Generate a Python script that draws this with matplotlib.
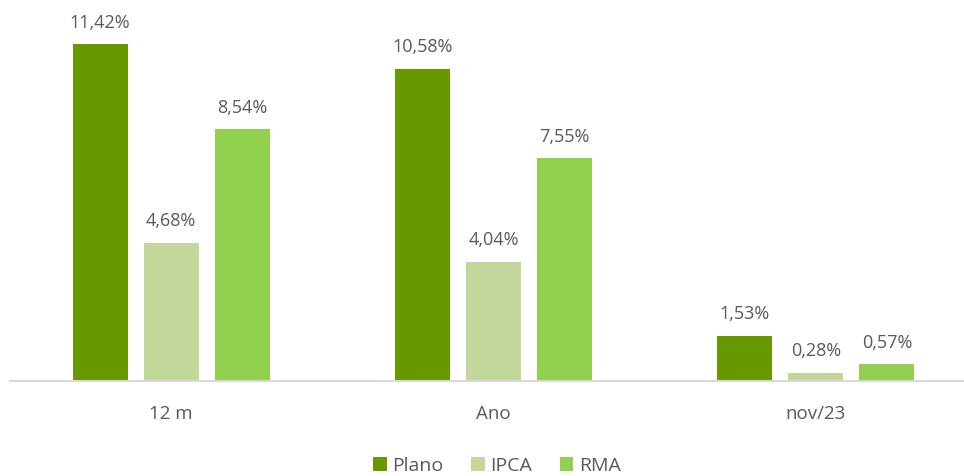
import numpy as np
import matplotlib.pyplot as plt

# Dados do gráfico
categorias = ["12 m", "Ano", "nov/23"]
series = ["Plano", "IPCA", "RMA"]
plano = [11.42, 10.58, 1.53]
ipca = [4.68, 4.04, 0.28]
rma = [8.54, 7.55, 0.57]
cores = ["#669900", "#C4D79B", "#92D050"]

plt.rcParams['font.family'] = ['Open Sans', 'DejaVu Sans']
texto = "#595959"

fig = plt.figure(figsize=(9.64, 4.76), dpi=100)
ax = fig.add_axes([10 / 964, 95 / 476, 967 / 964, 360 / 476])

x = np.arange(len(categorias))
largura = 55 / 322
passo = 71 / 322

for i, (nome, vals) in enumerate(zip(series, [plano, ipca, rma])):
    pos = x + (i - 1) * passo
    barras = ax.bar(pos, vals, width=largura, color=cores[i], label=nome)
    for b, v in zip(barras, vals):
        ax.annotate(f"{v:.2f}%".replace(".", ","),
                    (b.get_x() + b.get_width() / 2, v),
                    xytext=(0, 9), textcoords="offset points",
                    ha="center", va="bottom", fontsize=13, color=texto)

ax.set_xlim(-0.5, 2.5)
ax.set_ylim(0, 360 / 29.5)
ax.set_xticks(x)
ax.set_xticklabels(categorias, fontsize=13.5, color=texto)
ax.tick_params(axis="x", length=0, pad=17)
ax.set_yticks([])
for s in ["top", "right", "left"]:
    ax.spines[s].set_visible(False)
ax.spines["bottom"].set_color("#D9D9D9")
ax.spines["bottom"].set_linewidth(1.5)

leg = fig.legend(loc="center", bbox_to_anchor=(497 / 964, 10 / 476), ncol=3,
                 frameon=False, fontsize=14, handlelength=0.7, handleheight=0.7,
                 handletextpad=0.3, columnspacing=1.4)
for t in leg.get_texts():
    t.set_color(texto)

fig.savefig("out.png", dpi=100)
